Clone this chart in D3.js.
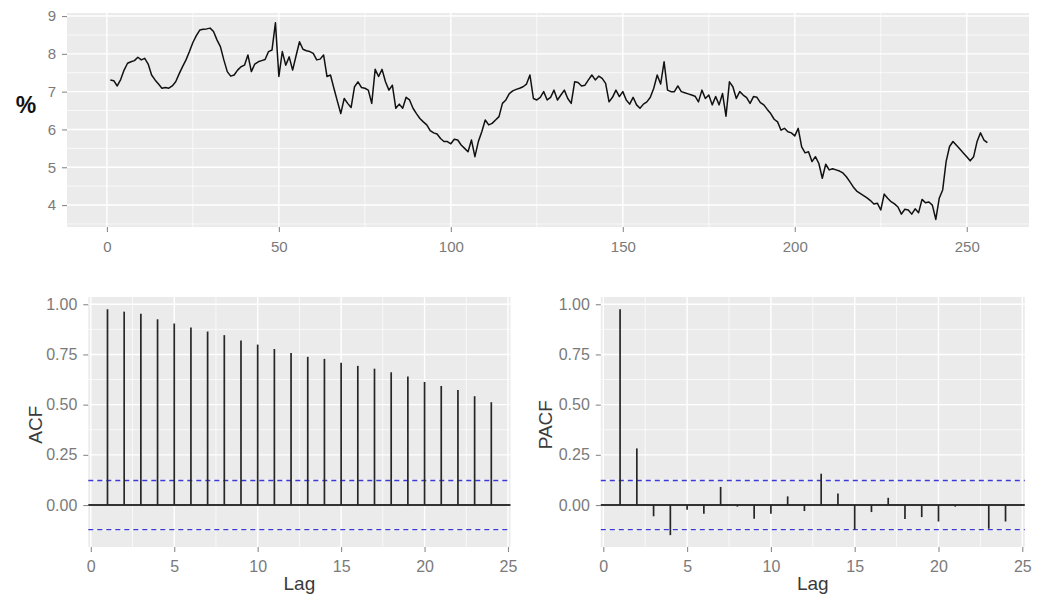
<!DOCTYPE html>
<html>
<head>
<meta charset="utf-8">
<script src="https://cdnjs.cloudflare.com/ajax/libs/d3/7.8.5/d3.min.js"></script>
<style>
body { margin: 0; background: #fff; }
text { font-family: "Liberation Sans", Arial, sans-serif; }
</style>
</head>
<body>
<script>
// monthly rate series (t = 1..256)
var rate = [
  7.31, 7.29, 7.15, 7.32, 7.57, 7.75, 7.79, 7.82, 7.91, 7.84,
  7.88, 7.73, 7.44, 7.31, 7.20, 7.09, 7.11, 7.09, 7.15, 7.26,
  7.47, 7.66, 7.84, 8.06, 8.30, 8.48, 8.63, 8.65, 8.66, 8.68,
  8.59, 8.37, 8.19, 7.84, 7.53, 7.41, 7.44, 7.57, 7.66, 7.70,
  7.97, 7.53, 7.73, 7.79, 7.82, 7.85, 8.06, 8.10, 8.82, 7.40,
  8.06, 7.70, 7.92, 7.57, 7.95, 8.32, 8.12, 8.08, 8.06, 8.01,
  7.84, 7.86, 7.97, 7.40, 7.44, 7.09, 6.75, 6.42, 6.82, 6.69,
  6.58, 7.13, 7.26, 7.11, 7.09, 7.04, 6.69, 7.59, 7.40, 7.59,
  7.26, 7.04, 7.17, 6.56, 6.67, 6.56, 6.85, 6.78, 6.56, 6.42,
  6.29, 6.20, 6.12, 5.97, 5.91, 5.88, 5.76, 5.68, 5.68, 5.62,
  5.74, 5.72, 5.59, 5.50, 5.41, 5.72, 5.28, 5.68, 5.94, 6.25,
  6.12, 6.16, 6.25, 6.34, 6.69, 6.78, 6.95, 7.02, 7.06, 7.09,
  7.13, 7.20, 7.44, 6.82, 6.78, 6.85, 7.00, 6.78, 6.85, 7.04,
  6.78, 6.91, 7.04, 6.82, 6.69, 7.26, 7.24, 7.15, 7.17, 7.31,
  7.44, 7.31, 7.41, 7.35, 7.22, 6.73, 6.85, 7.04, 6.87, 7.00,
  6.78, 6.67, 6.85, 6.65, 6.56, 6.67, 6.73, 6.85, 7.09, 7.44,
  7.20, 7.79, 7.04, 7.00, 7.00, 7.15, 7.00, 6.97, 6.94, 6.91,
  6.88, 6.73, 7.04, 6.82, 6.91, 6.65, 6.87, 6.65, 6.95, 6.35,
  7.26, 7.13, 6.82, 7.00, 6.91, 6.84, 6.69, 6.87, 6.85, 6.71,
  6.65, 6.53, 6.42, 6.27, 6.20, 5.98, 6.03, 5.94, 5.91, 5.83,
  6.03, 5.54, 5.38, 5.41, 5.15, 5.28, 5.10, 4.71, 5.08, 4.93,
  4.96, 4.93, 4.90, 4.85, 4.75, 4.62, 4.48, 4.37, 4.31, 4.25,
  4.19, 4.12, 4.03, 4.05, 3.87, 4.29, 4.18, 4.09, 4.03, 3.95,
  3.76, 3.89, 3.87, 3.76, 3.90, 3.80, 4.15, 4.06, 4.08, 4.00,
  3.62, 4.18, 4.40, 5.15, 5.55, 5.68, 5.58, 5.48, 5.38, 5.28,
  5.17, 5.28, 5.68, 5.91, 5.72, 5.65
];

var lags = [1, 2, 3, 4, 5, 6, 7, 8, 9, 10, 11, 12, 13, 14, 15, 16, 17, 18, 19, 20, 21, 22, 23, 24];
var acfValues = [0.975, 0.963, 0.952, 0.925, 0.904, 0.884, 0.864, 0.846, 0.819, 0.799, 0.777, 0.757,
                 0.738, 0.728, 0.709, 0.693, 0.679, 0.661, 0.640, 0.613, 0.593, 0.573, 0.542, 0.512];
var pacfValues = [0.975, 0.282, -0.056, -0.150, -0.024, -0.044, 0.090, -0.008, -0.068, -0.044, 0.043, -0.030,
                  0.156, 0.057, -0.122, -0.035, 0.036, -0.069, -0.060, -0.082, -0.008, 0.002, -0.118, -0.082];
var ciBound = 0.1225;

var topXTicks = [0, 50, 100, 150, 200, 250];
var topXMinor = [25, 75, 125, 175, 225];
var topYTicks = [4, 5, 6, 7, 8, 9];
var topYMinor = [3.5, 4.5, 5.5, 6.5, 7.5, 8.5];
var lagTicks = [0, 5, 10, 15, 20, 25];
var lagMinor = [2.5, 7.5, 12.5, 17.5, 22.5];
var corTicks = [0, 0.25, 0.5, 0.75, 1];
var corMinor = [-0.125, 0.125, 0.375, 0.625, 0.875];

var width = 1048, height = 601;

var svg = d3.select("body").append("svg")
  .attr("width", width)
  .attr("height", height);

svg.append("rect")
  .attr("width", width)
  .attr("height", height)
  .attr("fill", "#ffffff");

// grey panel with white major / minor grid, ggplot style
function panel(x, y, xMajor, xMinor, yMajor, yMinor) {
  var xr = x.range(), yr = y.range();
  var g = svg.append("g");
  g.append("rect")
    .attr("x", xr[0]).attr("y", yr[1])
    .attr("width", xr[1] - xr[0]).attr("height", yr[0] - yr[1])
    .attr("fill", "#ebebeb");
  g.selectAll(".ym").data(yMinor).enter().append("line")
    .attr("x1", xr[0]).attr("x2", xr[1])
    .attr("y1", d => y(d)).attr("y2", d => y(d))
    .attr("stroke", "#fff").attr("stroke-width", 0.7);
  g.selectAll(".xm").data(xMinor).enter().append("line")
    .attr("y1", yr[0]).attr("y2", yr[1])
    .attr("x1", d => x(d)).attr("x2", d => x(d))
    .attr("stroke", "#fff").attr("stroke-width", 0.7);
  g.selectAll(".yM").data(yMajor).enter().append("line")
    .attr("x1", xr[0]).attr("x2", xr[1])
    .attr("y1", d => y(d)).attr("y2", d => y(d))
    .attr("stroke", "#fff").attr("stroke-width", 1.4);
  g.selectAll(".xM").data(xMajor).enter().append("line")
    .attr("y1", yr[0]).attr("y2", yr[1])
    .attr("x1", d => x(d)).attr("x2", d => x(d))
    .attr("stroke", "#fff").attr("stroke-width", 1.4);
}

function axes(x, y, xTicks, yTicks, xFmt, yFmt, size) {
  var xr = x.range(), yr = y.range();
  var ax = svg.append("g")
    .attr("transform", "translate(0," + yr[0] + ")")
    .call(d3.axisBottom(x).tickValues(xTicks).tickSize(5).tickPadding(9).tickFormat(xFmt));
  var ay = svg.append("g")
    .attr("transform", "translate(" + xr[0] + ",0)")
    .call(d3.axisLeft(y).tickValues(yTicks).tickSize(5).tickPadding(6).tickFormat(yFmt));
  [ax, ay].forEach(function (a) {
    a.select(".domain").remove();
    a.selectAll(".tick line").attr("stroke", "#8a8a8a").attr("stroke-width", 1.1);
    a.selectAll(".tick text")
      .attr("fill", "#7a7a7a")
      .style("font-family", '"Liberation Sans", Arial, sans-serif')
      .style("font-size", size + "px");
  });
}

// ---- top: the series ----
var xTop = d3.scaleLinear().domain([-11.6, 268.1]).range([67, 1029]);
var yTop = d3.scaleLinear().domain([3.42, 9.08]).range([227, 13]);

panel(xTop, yTop, topXTicks, topXMinor, topYTicks, topYMinor);
axes(xTop, yTop, topXTicks, topYTicks, d3.format("d"), d3.format("d"), 15);

var line = d3.line()
  .x((d, i) => xTop(i + 1))
  .y(d => yTop(d));

svg.append("path")
  .datum(rate)
  .attr("d", line)
  .attr("fill", "none")
  .attr("stroke", "#111")
  .attr("stroke-width", 1.5)
  .attr("stroke-linejoin", "round");

svg.append("text")
  .attr("x", 26).attr("y", 113)
  .attr("text-anchor", "middle")
  .attr("fill", "#111")
  .style("font-size", "23px")
  .style("font-weight", "bold")
  .text("%");

// ---- bottom: ACF / PACF ----
function corPlot(left, right, values, title, titleX) {
  var x = d3.scaleLinear().domain([-0.15, 25.15]).range([left, right]);
  var y = d3.scaleLinear().domain([-0.209, 1.036]).range([547, 297]);

  panel(x, y, lagTicks, lagMinor, corTicks, corMinor);
  axes(x, y, lagTicks, corTicks, d3.format("d"), d3.format(".2f"), 16);

  svg.append("line")
    .attr("x1", x.range()[0]).attr("x2", x.range()[1])
    .attr("y1", y(0)).attr("y2", y(0))
    .attr("stroke", "#333").attr("stroke-width", 2);

  svg.selectAll(null)
    .data([ciBound, -ciBound])
    .enter().append("line")
    .attr("x1", x.range()[0]).attr("x2", x.range()[1])
    .attr("y1", d => y(d)).attr("y2", d => y(d))
    .attr("stroke", "#3a3ad6")
    .attr("stroke-width", 1.4)
    .attr("stroke-dasharray", "5,4");

  svg.selectAll(null)
    .data(values)
    .enter().append("line")
    .attr("x1", (d, i) => x(lags[i])).attr("x2", (d, i) => x(lags[i]))
    .attr("y1", y(0)).attr("y2", d => y(d))
    .attr("stroke", "#262626")
    .attr("stroke-width", 1.7);

  svg.append("text")
    .attr("x", (left + right) / 2).attr("y", 590)
    .attr("text-anchor", "middle")
    .attr("fill", "#3a3a3a")
    .style("font-size", "19px")
    .text("Lag");

  svg.append("text")
    .attr("transform", "translate(" + titleX + "," + y(0.4) + ") rotate(-90)")
    .attr("text-anchor", "middle")
    .attr("fill", "#3a3a3a")
    .style("font-size", "19px")
    .text(title);
}

corPlot(88.3, 510.5, acfValues, "ACF", 42);
corPlot(600.8, 1024.8, pacfValues, "PACF", 552);
</script>
</body>
</html>
